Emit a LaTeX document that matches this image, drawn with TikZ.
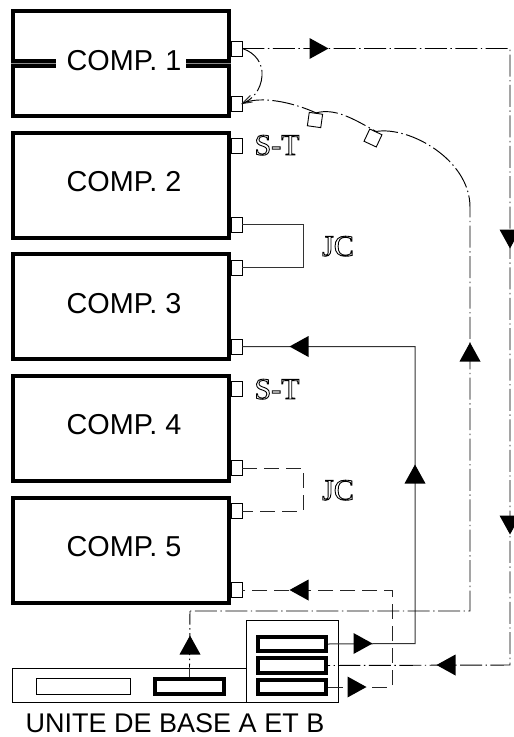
\documentclass[tikz,border=0pt]{standalone}
\usepackage{fontspec}
\setmainfont{Liberation Sans}
\newfontfamily\serifout{Liberation Serif}
\newcommand{\outl}[1]{\special{pdf:code q 1 Tr 0.9 w}#1\special{pdf:code Q}}
\newcommand{\tri}[3]{\fill[shift={(#1,#2)},rotate=#3] (-9.5,-10.5)--(9.5,0)--(-9.5,10.5)--cycle;}
\tikzset{
  x=1pt,y=-1pt,
  compbox/.style={draw,line width=4pt,minimum width=216pt,minimum height=105pt,inner sep=0pt},
  slotbox/.style={draw,line width=4pt,inner sep=0pt,minimum width=68pt},
  port/.style={draw,fill=white,line width=0.9pt,minimum width=11pt,minimum height=15pt,inner sep=0pt},
  tag/.style={draw,fill=white,line width=0.9pt,minimum size=13.5pt,inner sep=0pt},
  lab/.style={font=\fontsize{28.8}{29}\selectfont,inner sep=0pt,anchor=base},
  caplab/.style={font=\fontsize{27}{27}\selectfont,inner sep=0pt,anchor=base},
  olab/.style={font=\fontsize{30}{30}\serifout,inner sep=0pt,anchor=base},
  wire/.style={line width=1pt,black!80},
  dd/.style={line width=0.95pt,black,dash pattern=on 22pt off 3.5pt on 1.4pt off 3.5pt},
  da/.style={line width=0.9pt,black!85,dash pattern=on 15pt off 7pt},
  frame/.style={draw,line width=1pt,inner sep=0pt}
}
\begin{document}
\begin{tikzpicture}
\useasboundingbox (0,0) rectangle (514,737);
\node[compbox] (c1) at (121,63.5) {};
\node[compbox] (c2) at (121,185.5) {};
\node[compbox] (c3) at (121,306.5) {};
\node[compbox] (c4) at (121,428.5) {};
\node[compbox] (c5) at (121,550.5) {};
% splitting line of COMP. 1
\draw[line width=9pt] (c1.west) ++(0,-0.5) coordinate (sl) -- ++(45,0) coordinate (sm);
\draw[line width=9pt] (c1.east) ++(0,-0.5) coordinate (sr) -- ++(-45,0) coordinate (sn);
\draw[black!45,line width=0.4pt] (sl) -- (sm) (sr) -- (sn);
\node[lab] (t1) at (124,70) {COMP. 1};
\node[lab] (t2) at (124,191) {COMP. 2};
\node[lab] (t3) at (124,313) {COMP. 3};
\node[lab] (t4) at (124,434) {COMP. 4};
\node[lab] (t5) at (124,556) {COMP. 5};
% ports
\node[port] (p1a) at (236.5,48.5) {};
\node[port] (p1b) at (236.5,103.5) {};
\node[port] (p2s) at (236.5,145.5) {};
\node[port] (p2b) at (236.5,224.5) {};
\node[port] (p3a) at (236.5,267.5) {};
\node[port] (p3b) at (236.5,346.5) {};
\node[port] (p4s) at (236.5,389) {};
\node[port] (p4b) at (236.5,468) {};
\node[port] (p5a) at (236.5,511) {};
\node[port] (p5b) at (236.5,590) {};
\node[olab] (st1) at (277,155) {\outl{S-T}};
\node[olab] (st2) at (277,399) {\outl{S-T}};
\node[olab] (jc1) at (338,256) {\outl{JC}};
\node[olab] (jc2) at (338,500) {\outl{JC}};
% base unit
\node[frame,minimum width=234pt,minimum height=34pt] (base) at (129.5,685) {};
\node[frame,minimum width=92pt,minimum height=81.5pt] (rack) at (292,661.25) {};
\node[draw,line width=1pt,minimum width=94pt,minimum height=16pt,inner sep=0pt] (disp) at (83,686) {};
\node[slotbox,minimum width=69pt,minimum height=15pt] (sm0) at (189.5,686.5) {};
\node[slotbox,minimum height=14pt] (s1) at (292,644) {};
\node[slotbox,minimum height=15pt] (s2) at (292,665.5) {};
\node[slotbox,minimum height=14pt] (s3) at (292,687) {};
% corner coordinates
\coordinate (a1) at (510,48.5);
\coordinate (a2) at (510,665);
\coordinate (b1) at (470,207);
\coordinate (b2) at (470,611);
\coordinate (b3) at (190,611);
\coordinate (j1) at (303,224.5);
\coordinate (j2) at (303,267.5);
\coordinate (k1) at (303,468);
\coordinate (k2) at (303,511);
\coordinate (l1) at (415,346.5);
\coordinate (l2) at (415,643.5);
\coordinate (m1) at (392,590);
\coordinate (m2) at (392,687);
% solid wires
\draw[wire] (p2b.east) -- (j1) -- (j2) -- (p3a.east);
\draw[wire] (p3b.east) -- (l1) -- (l2) -- (s1.east);
\draw[wire] (sm0.north) -- (sm0.north |- base.north);
% dashed wires
\draw[da] (p4b.east) -- (k1) -- (k2) -- (p5a.east);
\draw[da] (s3.east) -- (m2) -- (m1) -- (p5b.east);
% dash-dot wires
\draw[dd] (p1a.east) -- (a1) -- (a2) -- (s2.east);
\draw[dd] (p1a.east) .. controls (256,53) and (263,64) .. (262,76) .. controls (261,90) and (252,100) .. (p1b.east);
\draw[wire] (p1b.east) ++(8,-8) -- (p1b.east) -- ++(10,-1.5);
\node[tag,rotate=-8] (q1) at (315,120) {};
\node[tag,rotate=-25] (q2) at (373,138) {};
\draw[dd] (p1b.east) .. controls (256,97) and (285,99) .. (q1.north);
\draw[dd] (q1.north) .. controls (335,108) and (352,118) .. (q2.north);
\draw[dd] (q2.north) .. controls (410,126) and (470,160) .. (b1) -- (b2) -- (b3);
\draw[dd,dash phase=18pt] (sm0.north |- base.north) -- (b3);
% arrowheads
\tri{319}{48.5}{0}
\tri{510}{239}{-90}
\tri{510}{525}{-90}
\tri{446}{665}{180}
\tri{470}{352}{90}
\tri{190}{645}{90}
\tri{299}{346.5}{180}
\tri{415}{474}{90}
\tri{363}{643.5}{0}
\tri{299}{590}{180}
\tri{357}{687}{0}
\node[caplab] (cap) at (175,732) {UNITE DE BASE A ET B};
\end{tikzpicture}
\end{document}
